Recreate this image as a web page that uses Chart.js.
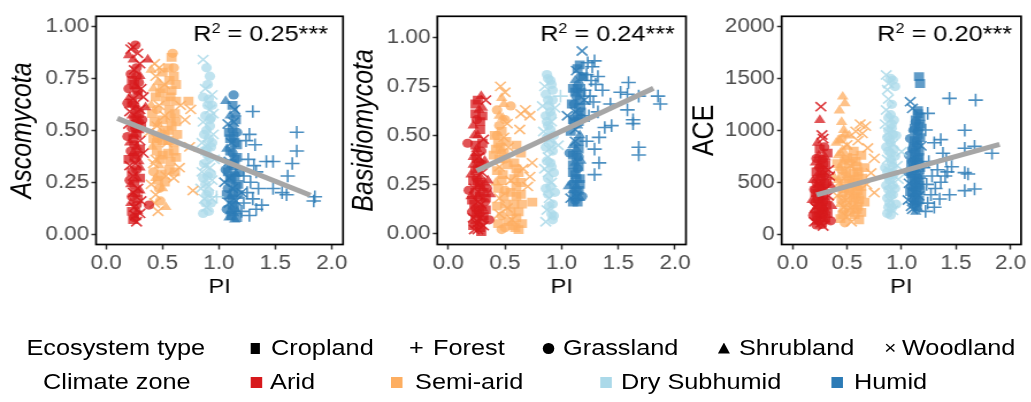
<!DOCTYPE html>
<html><head><meta charset="utf-8">
<script src="https://cdn.jsdelivr.net/npm/chart.js@4"></script>
<style>
html,body{margin:0;padding:0;background:#fff;width:1031px;height:402px;overflow:hidden;}
#wrap{position:absolute;left:0;top:0;width:896.5px;height:402px;transform:scaleX(1.15);transform-origin:0 0;font-family:"Liberation Sans",Arial,sans-serif;}
canvas{position:absolute;top:0;}
.lg{position:absolute;font-size:22px;line-height:22px;color:#000;white-space:nowrap;}
.mk{position:absolute;background:#000;}
</style></head><body><div id="wrap">
<canvas id="c1" width="310" height="300" style="left:0px"></canvas>
<canvas id="c2" width="309" height="300" style="left:300px"></canvas>
<canvas id="c3" width="300" height="300" style="left:596px"></canvas>
<div id="legend"></div>
</div>
<script>
// ---------- data ----------
const ecosystems = ['Cropland','Forest','Grassland','Shrubland','Woodland'];
const zones = ['Arid','Semi-arid','Dry Subhumid','Humid'];
const piTicks = [0,0.5,1,1.5,2];
const piTickLabels = ['0.0','0.5','1.0','1.5','2.0'];
const fracTicks = [0,0.25,0.5,0.75,1];
const fracTickLabels = ['0.00','0.25','0.50','0.75','1.00'];
const aceTicks = [0,500,1000,1500,2000];
const aceTickLabels = ['0','500','1000','1500','2000'];
const r2Labels = ['0.25***','0.24***','0.20***'];
// shape codes: r Cropland, p Forest, c Grassland, t Shrubland, x Woodland
const ascoArid = [[0.22,0.89,'x'],[0.26,0.91,'c'],[0.28,0.87,'x'],[0.24,0.84,'t'],[0.3,0.82,'x'],[0.37,0.84,'t'],[0.25,0.79,'x'],[0.27,0.76,'c'],[0.23,0.74,'r'],[0.29,0.73,'c'],[0.26,0.71,'t'],[0.31,0.7,'x'],[0.21,0.66,'t'],[0.28,0.67,'r'],[0.19,0.63,'c'],[0.25,0.62,'c'],[0.35,0.61,'t'],[0.3,0.6,'x'],[0.23,0.57,'t'],[0.27,0.56,'r'],[0.32,0.55,'c'],[0.2,0.53,'x'],[0.26,0.51,'c'],[0.29,0.5,'t'],[0.19,0.47,'c'],[0.24,0.46,'r'],[0.3,0.45,'x'],[0.27,0.42,'t'],[0.22,0.4,'c'],[0.33,0.39,'x'],[0.25,0.37,'r'],[0.29,0.35,'t'],[0.21,0.33,'x'],[0.27,0.31,'c'],[0.24,0.28,'x'],[0.3,0.27,'r'],[0.22,0.24,'t'],[0.28,0.22,'x'],[0.26,0.2,'r'],[0.23,0.18,'c'],[0.31,0.16,'x'],[0.38,0.14,'c'],[0.25,0.13,'x'],[0.28,0.11,'t'],[0.26,0.09,'x'],[0.24,0.07,'r'],[0.27,0.06,'x'],[0.29,0.58,'r'],[0.24,0.65,'x'],[0.28,0.38,'c'],[0.25,0.48,'t'],[0.31,0.52,'r'],
 [0.2,0.86,'t'],[0.24,0.9,'x'],[0.27,0.8,'c'],[0.22,0.77,'c'],[0.3,0.76,'t'],[0.25,0.72,'r'],[0.2,0.7,'c'],[0.28,0.69,'c'],[0.33,0.66,'x'],[0.23,0.63,'r'],[0.27,0.6,'c'],[0.21,0.59,'x'],[0.25,0.55,'r'],[0.29,0.54,'c'],[0.23,0.51,'c'],[0.27,0.48,'r'],[0.21,0.44,'t'],[0.25,0.43,'c'],[0.3,0.41,'r'],[0.24,0.39,'t'],[0.2,0.36,'r'],[0.26,0.34,'x'],[0.3,0.32,'t'],[0.23,0.3,'r'],[0.27,0.27,'t'],[0.21,0.26,'c'],[0.25,0.24,'r'],[0.3,0.21,'t'],[0.24,0.2,'x'],[0.28,0.17,'r'],[0.22,0.15,'t'],[0.27,0.14,'c'],[0.23,0.11,'r'],[0.3,0.1,'x'],[0.25,0.08,'c']];
const ascoSemi = [[0.4,0.79,'t'],[0.47,0.8,'x'],[0.44,0.76,'x'],[0.59,0.87,'c'],[0.58,0.85,'r'],[0.6,0.8,'c'],[0.56,0.74,'r'],[0.62,0.72,'r'],[0.52,0.72,'x'],[0.42,0.7,'t'],[0.48,0.68,'r'],[0.57,0.66,'r'],[0.73,0.64,'r'],[0.66,0.62,'x'],[0.4,0.62,'t'],[0.75,0.6,'x'],[0.45,0.6,'c'],[0.61,0.58,'r'],[0.52,0.57,'x'],[0.7,0.55,'x'],[0.43,0.54,'r'],[0.58,0.52,'r'],[0.49,0.5,'t'],[0.38,0.49,'x'],[0.63,0.48,'r'],[0.46,0.46,'c'],[0.54,0.44,'x'],[0.74,0.42,'x'],[0.41,0.42,'t'],[0.6,0.4,'r'],[0.5,0.38,'r'],[0.44,0.36,'x'],[0.57,0.35,'r'],[0.47,0.33,'t'],[0.65,0.32,'x'],[0.42,0.3,'c'],[0.61,0.3,'r'],[0.53,0.28,'x'],[0.46,0.26,'r'],[0.4,0.24,'x'],[0.5,0.22,'t'],[0.77,0.21,'x'],[0.44,0.19,'x'],[0.48,0.16,'c'],[0.53,0.13,'t'],[0.46,0.11,'x'],[0.55,0.45,'r'],[0.45,0.52,'x'],
 [0.43,0.82,'x'],[0.5,0.78,'r'],[0.55,0.8,'r'],[0.46,0.73,'t'],[0.6,0.76,'r'],[0.5,0.7,'r'],[0.58,0.69,'r'],[0.44,0.66,'r'],[0.53,0.64,'r'],[0.62,0.64,'r'],[0.47,0.62,'x'],[0.56,0.6,'r'],[0.41,0.58,'r'],[0.5,0.55,'r'],[0.62,0.54,'r'],[0.46,0.53,'t'],[0.55,0.5,'r'],[0.42,0.46,'r'],[0.5,0.45,'r'],[0.6,0.44,'r'],[0.45,0.4,'r'],[0.55,0.39,'r'],[0.62,0.37,'r'],[0.48,0.36,'r'],[0.42,0.34,'x'],[0.56,0.31,'r'],[0.49,0.29,'r'],[0.6,0.27,'x'],[0.44,0.27,'t'],[0.52,0.25,'r'],[0.47,0.22,'c'],[0.43,0.15,'x'],[0.57,0.56,'r'],[0.52,0.48,'r'],[0.45,0.44,'r']];
const ascoDry = [[0.86,0.84,'x'],[0.92,0.76,'c'],[0.88,0.7,'x'],[0.94,0.67,'x'],[0.91,0.65,'c'],[0.9,0.62,'c'],[0.95,0.58,'x'],[0.93,0.56,'c'],[0.86,0.54,'x'],[0.92,0.52,'c'],[0.89,0.5,'c'],[0.95,0.48,'x'],[0.91,0.46,'c'],[0.85,0.44,'x'],[0.93,0.42,'c'],[0.88,0.4,'r'],[0.9,0.38,'c'],[0.96,0.36,'x'],[0.87,0.34,'c'],[0.92,0.32,'x'],[0.85,0.3,'x'],[0.9,0.28,'c'],[0.94,0.26,'x'],[0.88,0.24,'c'],[0.84,0.22,'x'],[0.91,0.2,'c'],[0.98,0.18,'p'],[0.87,0.17,'x'],[0.93,0.15,'c'],[0.89,0.13,'x'],[0.86,0.1,'c'],[0.92,0.6,'x'],[0.9,0.43,'x'],
 [0.89,0.8,'c'],[0.9,0.72,'c'],[0.86,0.66,'c'],[0.94,0.62,'c'],[0.88,0.57,'c'],[0.92,0.55,'c'],[0.87,0.48,'c'],[0.94,0.44,'c'],[0.89,0.41,'c'],[0.92,0.37,'c'],[0.88,0.33,'x'],[0.93,0.29,'c'],[0.86,0.27,'c'],[0.91,0.23,'x'],[0.89,0.19,'c'],[0.94,0.17,'x'],[0.88,0.15,'c'],[0.91,0.11,'c']];
const ascoHumid = [[1.06,0.64,'t'],[1.13,0.67,'c'],[1.14,0.6,'x'],[1.1,0.57,'t'],[1.15,0.55,'r'],[1.08,0.53,'x'],[1.12,0.51,'r'],[1.16,0.49,'c'],[1.1,0.46,'r'],[1.14,0.44,'r'],[1.07,0.41,'t'],[1.12,0.39,'c'],[1.16,0.37,'r'],[1.09,0.35,'x'],[1.13,0.33,'r'],[1.06,0.31,'c'],[1.15,0.29,'t'],[1.11,0.27,'r'],[1.05,0.25,'x'],[1.17,0.24,'r'],[1.08,0.22,'c'],[1.13,0.2,'r'],[1.1,0.18,'t'],[1.15,0.16,'x'],[1.12,0.14,'r'],[1.07,0.12,'c'],[1.16,0.11,'t'],[1.11,0.09,'r'],[1.14,0.07,'t'],[1.2,0.2,'x'],[1.09,0.27,'x'],
 [1.12,0.62,'r'],[1.15,0.58,'t'],[1.13,0.54,'x'],[1.09,0.49,'r'],[1.13,0.47,'r'],[1.16,0.43,'r'],[1.1,0.4,'r'],[1.14,0.36,'r'],[1.11,0.34,'r'],[1.08,0.3,'r'],[1.14,0.28,'r'],[1.1,0.26,'r'],[1.15,0.23,'r'],[1.12,0.22,'x'],[1.07,0.19,'r'],[1.12,0.17,'r'],[1.17,0.19,'r'],[1.09,0.15,'x'],[1.14,0.13,'r'],[1.1,0.11,'t'],[1.13,0.1,'t'],[1.16,0.08,'r'],[1.09,0.08,'t'],[1.18,0.3,'r'],[1.11,0.44,'x'],
 [1.3,0.59,'p'],[1.27,0.48,'p'],[1.24,0.45,'p'],[1.32,0.43,'p'],[1.42,0.35,'p'],[1.48,0.35,'p'],[1.69,0.49,'p'],[1.69,0.4,'p'],[1.65,0.34,'p'],[1.61,0.28,'p'],[1.56,0.2,'p'],[1.6,0.19,'p'],[1.84,0.16,'p'],[1.85,0.18,'p'],[1.33,0.3,'p'],[1.28,0.25,'p'],[1.35,0.22,'p'],[1.25,0.2,'p'],[1.3,0.17,'p'],[1.22,0.15,'p'],[1.33,0.12,'p'],[1.27,0.09,'p'],[1.38,0.14,'p'],[1.48,0.22,'p'],[1.22,0.28,'p'],[1.31,0.33,'p'],[1.2,0.11,'p'],[1.26,0.36,'p']];
const basiArid = [[0.29,0.7,'t'],[0.33,0.68,'x'],[0.24,0.66,'r'],[0.27,0.63,'t'],[0.3,0.6,'r'],[0.25,0.58,'c'],[0.22,0.55,'t'],[0.28,0.53,'r'],[0.26,0.5,'t'],[0.31,0.48,'x'],[0.17,0.46,'c'],[0.24,0.45,'r'],[0.29,0.42,'c'],[0.27,0.39,'x'],[0.32,0.37,'t'],[0.22,0.35,'t'],[0.26,0.33,'r'],[0.3,0.31,'x'],[0.2,0.3,'t'],[0.25,0.28,'c'],[0.35,0.27,'t'],[0.28,0.25,'r'],[0.18,0.22,'c'],[0.23,0.23,'x'],[0.31,0.21,'r'],[0.26,0.19,'t'],[0.37,0.2,'t'],[0.21,0.17,'r'],[0.29,0.15,'x'],[0.24,0.13,'c'],[0.33,0.12,'r'],[0.27,0.1,'t'],[0.22,0.08,'x'],[0.3,0.07,'r'],[0.36,0.07,'c'],[0.25,0.05,'x'],[0.28,0.03,'r'],[0.23,0.02,'x'],[0.27,0.36,'c'],[0.24,0.41,'t'],[0.32,0.16,'c'],[0.26,0.24,'t'],
 [0.26,0.68,'r'],[0.3,0.64,'t'],[0.24,0.61,'r'],[0.28,0.57,'r'],[0.23,0.5,'t'],[0.3,0.46,'r'],[0.25,0.43,'t'],[0.22,0.39,'t'],[0.29,0.35,'r'],[0.24,0.32,'r'],[0.28,0.29,'t'],[0.32,0.26,'t'],[0.22,0.27,'r'],[0.26,0.26,'r'],[0.3,0.23,'t'],[0.24,0.21,'r'],[0.28,0.19,'r'],[0.2,0.19,'t'],[0.33,0.18,'r'],[0.26,0.16,'x'],[0.23,0.15,'r'],[0.3,0.13,'t'],[0.27,0.12,'r'],[0.21,0.11,'c'],[0.25,0.1,'r'],[0.31,0.09,'r'],[0.28,0.08,'x'],[0.24,0.07,'r'],[0.27,0.05,'t'],[0.31,0.04,'x'],[0.22,0.04,'r'],[0.26,0.02,'x'],[0.29,0.01,'r'],[0.34,0.23,'c'],[0.25,0.38,'r']];
const basiSemi = [[0.46,0.75,'x'],[0.5,0.72,'x'],[0.47,0.69,'t'],[0.55,0.65,'c'],[0.43,0.63,'c'],[0.68,0.63,'x'],[0.64,0.61,'x'],[0.48,0.59,'t'],[0.72,0.6,'x'],[0.52,0.56,'x'],[0.45,0.55,'c'],[0.63,0.53,'x'],[0.41,0.5,'r'],[0.49,0.49,'x'],[0.44,0.46,'r'],[0.6,0.45,'r'],[0.53,0.44,'x'],[0.47,0.42,'t'],[0.64,0.41,'r'],[0.4,0.4,'r'],[0.5,0.38,'c'],[0.74,0.36,'x'],[0.58,0.36,'r'],[0.45,0.34,'x'],[0.66,0.33,'x'],[0.62,0.31,'r'],[0.48,0.3,'r'],[0.72,0.29,'x'],[0.55,0.27,'x'],[0.42,0.26,'t'],[0.6,0.24,'r'],[0.7,0.24,'x'],[0.5,0.22,'c'],[0.64,0.2,'r'],[0.45,0.18,'x'],[0.74,0.16,'r'],[0.58,0.15,'r'],[0.52,0.13,'x'],[0.62,0.11,'r'],[0.47,0.09,'c'],[0.56,0.07,'x'],[0.65,0.05,'r'],[0.5,0.03,'c'],[0.59,0.03,'r'],[0.44,0.05,'r'],
 [0.49,0.66,'t'],[0.45,0.6,'t'],[0.5,0.58,'c'],[0.47,0.52,'r'],[0.43,0.5,'c'],[0.51,0.47,'r'],[0.46,0.44,'r'],[0.42,0.43,'r'],[0.49,0.41,'r'],[0.45,0.38,'r'],[0.52,0.35,'r'],[0.6,0.33,'r'],[0.43,0.32,'r'],[0.58,0.28,'r'],[0.47,0.27,'r'],[0.64,0.26,'r'],[0.44,0.23,'r'],[0.55,0.21,'r'],[0.6,0.19,'r'],[0.49,0.19,'r'],[0.43,0.14,'r'],[0.55,0.11,'r'],[0.6,0.08,'r'],[0.45,0.1,'x'],[0.65,0.15,'r'],[0.5,0.15,'r'],[0.57,0.04,'r'],[0.62,0.02,'r'],[0.47,0.02,'c'],[0.53,0.06,'r']];
const basiDry = [[0.87,0.81,'c'],[0.9,0.78,'c'],[0.85,0.75,'x'],[0.92,0.73,'c'],[0.99,0.7,'p'],[0.88,0.68,'c'],[0.83,0.65,'x'],[0.94,0.64,'x'],[0.9,0.62,'c'],[0.86,0.6,'c'],[0.91,0.57,'x'],[0.88,0.55,'c'],[0.84,0.52,'x'],[0.93,0.5,'c'],[0.89,0.48,'x'],[0.97,0.45,'x'],[0.86,0.44,'c'],[0.92,0.42,'c'],[0.88,0.39,'x'],[0.9,0.36,'c'],[0.85,0.33,'x'],[0.93,0.31,'c'],[0.88,0.28,'c'],[0.91,0.26,'x'],[0.86,0.23,'c'],[0.94,0.21,'c'],[0.89,0.18,'x'],[0.92,0.15,'c'],[0.87,0.12,'x'],[0.93,0.09,'c'],[0.86,0.06,'x'],[0.92,0.07,'c'],
 [0.88,0.79,'c'],[0.91,0.76,'c'],[0.86,0.71,'c'],[0.92,0.68,'c'],[0.89,0.65,'c'],[0.91,0.6,'c'],[0.87,0.57,'c'],[0.9,0.53,'c'],[0.87,0.49,'c'],[0.91,0.46,'c'],[0.89,0.43,'x'],[0.87,0.37,'c'],[0.91,0.34,'c'],[0.88,0.31,'x'],[0.9,0.24,'c'],[0.88,0.2,'c'],[0.91,0.1,'c'],[0.89,0.14,'c']];
const basiHumid = [[1.18,0.93,'x'],[1.16,0.86,'r'],[1.13,0.83,'x'],[1.19,0.8,'r'],[1.12,0.78,'t'],[1.15,0.76,'c'],[1.1,0.74,'r'],[1.17,0.72,'r'],[1.13,0.7,'c'],[1.2,0.68,'x'],[1.09,0.66,'r'],[1.15,0.64,'r'],[1.12,0.62,'x'],[1.05,0.6,'x'],[1.17,0.59,'c'],[1.11,0.57,'r'],[1.14,0.55,'t'],[1.08,0.52,'r'],[1.16,0.5,'t'],[1.12,0.47,'x'],[1.1,0.45,'t'],[1.15,0.43,'r'],[1.07,0.41,'c'],[1.13,0.39,'r'],[1.17,0.37,'t'],[1.1,0.35,'r'],[1.14,0.33,'c'],[1.12,0.3,'r'],[1.16,0.28,'r'],[1.09,0.26,'t'],[1.13,0.24,'t'],[1.06,0.24,'t'],[1.15,0.22,'r'],[1.11,0.2,'r'],[1.18,0.19,'c'],[1.08,0.18,'x'],[1.14,0.16,'r'],[1.12,0.17,'c'],
 [1.14,0.84,'r'],[1.17,0.8,'c'],[1.14,0.74,'r'],[1.12,0.72,'r'],[1.16,0.68,'r'],[1.11,0.66,'c'],[1.17,0.62,'r'],[1.14,0.6,'r'],[1.1,0.58,'r'],[1.15,0.57,'r'],[1.12,0.53,'x'],[1.15,0.47,'r'],[1.13,0.43,'t'],[1.1,0.4,'r'],[1.15,0.39,'c'],[1.12,0.36,'t'],[1.15,0.34,'r'],[1.1,0.31,'r'],[1.13,0.28,'r'],[1.11,0.25,'r'],[1.16,0.25,'r'],[1.13,0.21,'r'],[1.1,0.22,'t'],[1.16,0.18,'t'],[1.1,0.16,'r'],[1.13,0.19,'x'],
 [1.23,0.87,'p'],[1.29,0.88,'p'],[1.27,0.85,'p'],[1.32,0.8,'p'],[1.22,0.81,'p'],[1.26,0.78,'p'],[1.3,0.76,'p'],[1.36,0.73,'p'],[1.2,0.73,'p'],[1.25,0.7,'p'],[1.28,0.67,'p'],[1.43,0.66,'p'],[1.32,0.62,'p'],[1.24,0.6,'p'],[1.52,0.72,'p'],[1.59,0.77,'p'],[1.58,0.71,'p'],[1.68,0.7,'p'],[1.85,0.7,'p'],[1.87,0.66,'p'],[1.58,0.63,'p'],[1.63,0.58,'p'],[1.63,0.56,'p'],[1.44,0.55,'p'],[1.38,0.54,'p'],[1.33,0.49,'p'],[1.29,0.43,'p'],[1.68,0.44,'p'],[1.68,0.4,'p'],[1.33,0.36,'p'],[1.29,0.3,'p'],[1.22,0.47,'p'],[1.2,0.66,'p']];
const aceArid = [[0.26,1227,'x'],[0.25,1099,'t'],[0.27,955,'x'],[0.23,880,'t'],[0.29,840,'c'],[0.32,780,'r'],[0.24,760,'t'],[0.27,720,'c'],[0.21,690,'t'],[0.3,670,'r'],[0.25,640,'c'],[0.33,620,'x'],[0.22,600,'r'],[0.28,580,'t'],[0.26,550,'c'],[0.19,520,'t'],[0.31,510,'r'],[0.24,490,'x'],[0.35,470,'t'],[0.27,450,'c'],[0.2,430,'c'],[0.29,410,'t'],[0.23,390,'r'],[0.33,370,'x'],[0.26,350,'t'],[0.18,330,'t'],[0.3,310,'c'],[0.24,290,'r'],[0.36,270,'t'],[0.21,260,'x'],[0.28,240,'c'],[0.25,220,'t'],[0.32,200,'r'],[0.19,180,'c'],[0.27,160,'x'],[0.23,140,'c'],[0.3,130,'t'],[0.26,110,'x'],[0.22,90,'c'],[0.28,80,'x'],[0.35,130,'c'],[0.34,560,'x'],[0.22,500,'c'],
 [0.28,920,'x'],[0.25,820,'r'],[0.3,740,'t'],[0.22,730,'c'],[0.28,690,'r'],[0.24,660,'t'],[0.27,610,'r'],[0.3,590,'c'],[0.23,570,'t'],[0.26,530,'r'],[0.29,490,'r'],[0.22,470,'t'],[0.25,460,'r'],[0.31,440,'x'],[0.27,420,'t'],[0.21,400,'r'],[0.25,380,'c'],[0.3,360,'t'],[0.23,340,'r'],[0.28,330,'r'],[0.21,310,'c'],[0.26,300,'t'],[0.31,280,'r'],[0.23,270,'t'],[0.27,260,'r'],[0.2,230,'t'],[0.3,230,'t'],[0.24,210,'r'],[0.28,190,'c'],[0.22,170,'r'],[0.26,180,'t'],[0.3,160,'r'],[0.24,120,'t'],[0.27,95,'c'],[0.2,120,'x']];
const aceSemi = [[0.46,1323,'t'],[0.48,1260,'t'],[0.43,1190,'t'],[0.47,1003,'t'],[0.62,1060,'x'],[0.67,1040,'x'],[0.58,990,'x'],[0.64,970,'x'],[0.52,950,'t'],[0.45,920,'c'],[0.6,900,'x'],[0.4,880,'t'],[0.5,860,'x'],[0.69,830,'x'],[0.56,800,'r'],[0.44,780,'t'],[0.63,760,'r'],[0.75,730,'x'],[0.48,720,'c'],[0.58,700,'r'],[0.41,680,'r'],[0.53,660,'x'],[0.66,640,'r'],[0.45,620,'c'],[0.6,600,'r'],[0.72,590,'x'],[0.5,570,'t'],[0.38,550,'t'],[0.64,540,'r'],[0.55,520,'r'],[0.43,500,'x'],[0.68,480,'x'],[0.59,460,'r'],[0.47,440,'r'],[0.52,420,'c'],[0.75,400,'x'],[0.63,390,'r'],[0.41,370,'x'],[0.56,350,'r'],[0.49,330,'x'],[0.66,310,'r'],[0.44,290,'t'],[0.6,270,'r'],[0.53,250,'x'],[0.47,230,'c'],[0.63,210,'r'],[0.57,190,'r'],[0.5,170,'x'],[0.44,150,'r'],[0.61,140,'r'],[0.54,120,'x'],[0.48,110,'c'],
 [0.45,1080,'t'],[0.48,960,'t'],[0.43,900,'t'],[0.5,840,'t'],[0.46,810,'t'],[0.42,760,'t'],[0.5,740,'r'],[0.55,730,'r'],[0.46,690,'t'],[0.52,680,'r'],[0.59,650,'r'],[0.43,640,'t'],[0.49,610,'r'],[0.56,590,'r'],[0.46,560,'r'],[0.6,560,'r'],[0.52,530,'r'],[0.42,520,'t'],[0.57,500,'r'],[0.48,490,'r'],[0.63,460,'r'],[0.44,460,'t'],[0.54,440,'r'],[0.6,420,'r'],[0.46,400,'r'],[0.52,380,'r'],[0.58,360,'r'],[0.45,340,'r'],[0.61,330,'r'],[0.5,300,'r'],[0.56,280,'r'],[0.47,260,'x'],[0.59,240,'r'],[0.52,210,'r'],[0.46,190,'r']];
const aceDry = [[0.86,1532,'x'],[0.92,1480,'c'],[0.88,1450,'x'],[0.94,1420,'c'],[0.87,1390,'x'],[0.86,1195,'x'],[0.9,1150,'c'],[0.93,1100,'c'],[0.85,1060,'x'],[0.91,1020,'c'],[0.88,980,'x'],[0.95,950,'c'],[0.89,910,'c'],[0.92,870,'x'],[0.86,840,'c'],[1.0,794,'x'],[0.9,780,'c'],[0.94,750,'c'],[0.87,720,'x'],[0.91,690,'c'],[0.96,660,'x'],[0.85,640,'c'],[0.89,610,'x'],[0.93,580,'c'],[0.88,550,'c'],[0.97,530,'x'],[0.91,500,'x'],[0.86,470,'c'],[0.94,440,'c'],[0.89,410,'x'],[0.92,380,'c'],[0.87,350,'c'],[0.9,320,'x'],[0.95,290,'c'],[0.88,260,'c'],[0.92,230,'x'],[0.87,200,'c'],[0.9,185,'c'],
 [0.9,1500,'c'],[0.88,1300,'x'],[0.91,1250,'c'],[0.88,1120,'c'],[0.91,1060,'c'],[0.88,1000,'c'],[0.92,960,'c'],[0.87,930,'c'],[0.9,880,'c'],[0.93,820,'c'],[0.88,800,'c'],[0.9,720,'c'],[0.92,650,'c'],[0.87,600,'c'],[0.91,570,'c'],[0.89,520,'c'],[0.92,470,'c'],[0.88,430,'c'],[0.9,390,'c'],[0.89,300,'c'],[0.91,250,'c']];
const aceHumid = [[1.16,1515,'r'],[1.17,1450,'r'],[1.08,1275,'x'],[1.1,1210,'x'],[1.15,1190,'r'],[1.17,1130,'r'],[1.13,1080,'c'],[1.16,1040,'r'],[1.11,1000,'c'],[1.15,960,'r'],[1.08,920,'c'],[1.14,880,'r'],[1.18,850,'x'],[1.1,820,'c'],[1.13,790,'r'],[1.07,760,'c'],[1.16,740,'r'],[1.12,710,'c'],[1.09,680,'r'],[1.15,660,'x'],[1.11,630,'r'],[1.06,600,'c'],[1.14,580,'r'],[1.18,560,'t'],[1.1,540,'r'],[1.13,510,'c'],[1.07,490,'x'],[1.16,470,'r'],[1.11,450,'c'],[1.14,430,'r'],[1.08,410,'r'],[1.12,390,'t'],[1.16,370,'x'],[1.1,350,'c'],[1.06,330,'x'],[1.14,310,'r'],[1.12,290,'c'],[1.09,270,'x'],[1.15,250,'t'],[1.13,217,'t'],
 [1.15,1160,'r'],[1.13,1100,'r'],[1.17,1060,'r'],[1.12,1020,'r'],[1.15,990,'c'],[1.17,930,'r'],[1.12,900,'r'],[1.15,860,'c'],[1.11,840,'r'],[1.16,800,'r'],[1.12,770,'r'],[1.15,720,'r'],[1.1,700,'c'],[1.14,690,'r'],[1.17,640,'r'],[1.12,610,'r'],[1.09,580,'r'],[1.15,540,'c'],[1.12,520,'r'],[1.16,500,'r'],[1.09,460,'c'],[1.13,450,'r'],[1.17,420,'r'],[1.1,400,'r'],[1.14,380,'c'],[1.12,350,'r'],[1.16,330,'r'],[1.11,310,'t'],[1.14,270,'r'],[1.1,240,'x'],
 [1.44,1307,'p'],[1.68,1290,'p'],[1.24,1163,'p'],[1.22,1003,'p'],[1.58,1000,'p'],[1.36,910,'p'],[1.3,880,'p'],[1.83,779,'p'],[1.58,827,'p'],[1.67,845,'p'],[1.46,650,'p'],[1.38,780,'p'],[1.41,720,'p'],[1.25,700,'p'],[1.33,620,'p'],[1.4,560,'p'],[1.36,500,'p'],[1.58,593,'p'],[1.61,580,'p'],[1.58,420,'p'],[1.67,436,'p'],[1.28,560,'p'],[1.23,480,'p'],[1.31,440,'p'],[1.27,380,'p'],[1.35,340,'p'],[1.24,300,'p'],[1.3,260,'p'],[1.22,220,'p'],[1.42,600,'p'],[1.44,380,'p'],[1.2,640,'p']];
const ascoFit = [[0.1,0.557],[1.81,0.187]];
const basiFit = [[0.25,0.32],[1.81,0.74]];
const aceFit = [[0.22,378],[1.9,865]];

// ---------- styling ----------
const FONT = '"Liberation Sans", Arial, sans-serif';
Chart.defaults.font.family = FONT;
const SHAPE = {r:'rect', p:'cross', c:'circle', t:'triangle', x:'crossRot'};
const RADIUS = {r:6.2, p:6.3, c:4.6, t:5.8, x:6.5};
const zoneRGB = ['215,25,28','253,174,97','171,217,233','44,123,182'];

const framePlugin = {id:'frame', afterDraw(chart){
  const {ctx, chartArea:a} = chart;
  ctx.save(); ctx.strokeStyle = '#000'; ctx.lineWidth = 1.7;
  ctx.strokeRect(a.left, a.top, a.right - a.left, a.bottom - a.top); ctx.restore();
}};
const r2Plugin = {id:'r2', afterDraw(chart, args, o){
  const {ctx, chartArea:a} = chart;
  const big = '22px ' + FONT, small = '14px ' + FONT;
  ctx.save(); ctx.fillStyle = '#000'; ctx.textBaseline = 'alphabetic'; ctx.textAlign = 'left';
  ctx.font = big; const wR = ctx.measureText('R').width; const rest = ' = ' + o.text; const wRest = ctx.measureText(rest).width;
  ctx.font = small; const w2 = ctx.measureText('2').width;
  let x = a.right - o.offset - (wR + w2 + wRest); const y = 41;
  ctx.font = big; ctx.fillText('R', x, y); x += wR;
  ctx.font = small; ctx.fillText('2', x, y - 8); x += w2;
  ctx.font = big; ctx.fillText(rest, x, y);
  ctx.restore();
}};

function pts(arr){ return arr.map(([x,y,s]) => ({x, y, s})); }

function makePanel(id, cfg){
  const datasets = cfg.series.map((arr, i) => ({
    data: pts(arr), order: i,
    pointStyle: c => c.raw ? SHAPE[c.raw.s] : 'circle',
    pointRadius: c => c.raw ? RADIUS[c.raw.s] : 4,
    pointBackgroundColor: 'rgba(' + zoneRGB[i] + ',0.75)',
    pointBorderColor: 'rgba(' + zoneRGB[i] + ',0.85)',
    pointBorderWidth: c => (c.raw && (c.raw.s === 'p' || c.raw.s === 'x')) ? 1.6 : 0
  }));
  datasets.push({type:'line', data: cfg.fit.map(([x,y]) => ({x, y})), borderColor:'#a6a6a6',
    borderWidth:5, pointRadius:0, order:-1, borderCapStyle:'butt', fill:false});
  new Chart(document.getElementById(id), {
    type:'scatter',
    data:{datasets},
    plugins:[framePlugin, r2Plugin],
    options:{
      responsive:false, animation:false, events:[],
      layout:{padding:{left:cfg.padL, right:cfg.padR, top:16.3, bottom:0}},
      plugins:{legend:{display:false}, tooltip:{enabled:false}, r2:{text:cfg.r2, offset:cfg.r2off}},
      scales:{
        x:{type:'linear', min:cfg.xmin, max:cfg.xmax,
          afterBuildTicks: s => { s.ticks = piTicks.map(v => ({value:v})); },
          afterFit: s => { s.height = 55.5; },
          ticks:{callback:(v,i) => piTickLabels[i], font:{size:19.5}, color:'#4d4d4d', padding:2, maxRotation:0, autoSkip:false},
          grid:{drawOnChartArea:false, drawTicks:true, tickLength:5, tickColor:'#333', tickWidth:1.5},
          border:{display:false},
          title:{display:true, text:'PI', font:{size:20.5}, color:'#000', padding:0}},
        y:{type:'linear', min:cfg.ymin, max:cfg.ymax,
          afterBuildTicks: s => { s.ticks = cfg.yTicks.map(v => ({value:v})); },
          afterFit: s => { s.width = cfg.yW; },
          ticks:{callback:(v,i) => cfg.yLabels[i], font:{size:19.5}, color:'#4d4d4d', padding:2, autoSkip:false},
          grid:{drawOnChartArea:false, drawTicks:true, tickLength:4, tickColor:'#333', tickWidth:1.5},
          border:{display:false},
          title:{display:true, text:cfg.yTitle, font:{size:25, style:cfg.italic ? 'italic' : 'normal'}, color:'#000', padding:0}}
      }
    }
  });
}

makePanel('c1', {series:[ascoArid, ascoSemi, ascoDry, ascoHumid], fit:ascoFit, r2:r2Labels[0], r2off:13,
  xmin:-0.089, xmax:2.10, ymin:-0.0495, ymax:1.048, yTicks:fracTicks, yLabels:fracTickLabels,
  yTitle:'Ascomycota', italic:true, padL:5, padR:11.7, yW:78.5});
makePanel('c2', {series:[basiArid, basiSemi, basiDry, basiHumid], fit:basiFit, r2:r2Labels[1], r2off:9.6,
  xmin:-0.097, xmax:2.097, ymin:-0.056, ymax:1.107, yTicks:fracTicks, yLabels:fracTickLabels,
  yTitle:'Basidiomycota', italic:true, padL:2.4, padR:12.5, yW:77.9});
makePanel('c3', {series:[aceArid, aceSemi, aceDry, aceHumid], fit:aceFit, r2:r2Labels[2], r2off:7.8,
  xmin:-0.1, xmax:2.097, ymin:-98, ymax:2096, yTicks:aceTicks, yLabels:aceTickLabels,
  yTitle:'ACE', italic:false, padL:2, padR:5.6, yW:81.7});

// ---------- legend (HTML) ----------
const lg = document.getElementById('legend');
function add(cls, text, style){ const d = document.createElement('div'); d.className = cls; if (text) d.textContent = text; Object.assign(d.style, style); lg.appendChild(d); return d; }
const row1 = 337.4, row2 = 370.7;
add('lg', 'Ecosystem type', {left:'23px', top:row1 + 'px'});
add('lg', 'Climate zone', {left:'37.4px', top:row2 + 'px'});
const ecoMarkLeft = [218.3, 355.6, 472.2, 624.3, 769];
const ecoTextLeft = [235.7, 376.5, 489.6, 642.6, 784.3];
ecosystems.forEach((name, i) => {
  if (i === 0) add('mk', '', {left:ecoMarkLeft[i] + 'px', top:'343px', width:'8px', height:'11px'});
  if (i === 1) add('lg', '+', {left:ecoMarkLeft[i] + 'px', top:row1 + 'px'});
  if (i === 2) add('mk', '', {left:ecoMarkLeft[i] + 'px', top:'342.5px', width:'9.6px', height:'11px', borderRadius:'50%'});
  if (i === 3) add('mk', '', {left:ecoMarkLeft[i] + 'px', top:'342.5px', width:'10.4px', height:'11px', clipPath:'polygon(50% 0,100% 100%,0 100%)'});
  if (i === 4) add('lg', '\u00d7', {left:ecoMarkLeft[i] + 'px', top:'336.8px', fontSize:'18px'});
  add('lg', name, {left:ecoTextLeft[i] + 'px', top:row1 + 'px'});
});
const zoneMarkLeft = [218.3, 340, 521.7, 722.6];
const zoneTextLeft = [234.8, 360.9, 540, 742.6];
zones.forEach((name, i) => {
  add('mk', '', {left:zoneMarkLeft[i] + 'px', top:'376.5px', width:'10px', height:'11.5px', background:'rgb(' + zoneRGB[i] + ')'});
  add('lg', name, {left:zoneTextLeft[i] + 'px', top:row2 + 'px'});
});
</script>
</body></html>
